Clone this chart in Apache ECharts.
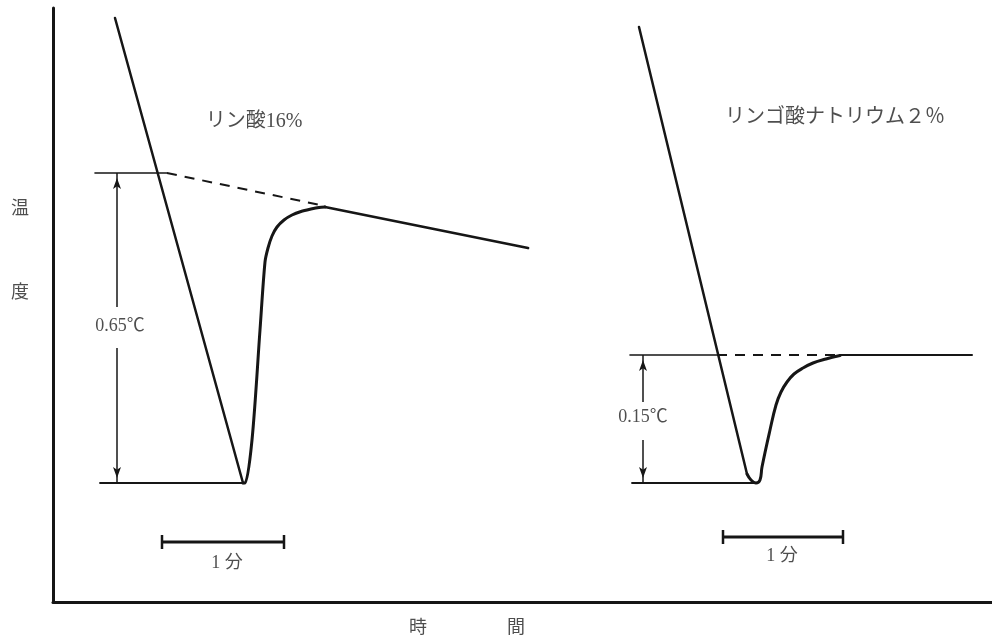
<!DOCTYPE html>
<html>
<head>
<meta charset="utf-8">
<script src="https://cdn.jsdelivr.net/npm/echarts@6/dist/echarts.min.js"></script>
<style>
html,body{margin:0;padding:0;background:#fff;}
#main{width:992px;height:643px;}
</style>
</head>
<body>
<div id="main"></div>
<script>
// Axis extents (arbitrary relative units: time → x, temperature → y)
const xRange = [0, 939];
const yRange = [0, 594];

// Left panel: リン酸16%
const leftCooling  = [[62,584],[190,119]];
const leftRecovery = [[190,119],[192,119],[199,162],[207,272],[212,340],[215,354],[219,366],[224,375],[231,382],[239,387],[248,390.5],[258,393],[266,394.6],[272,395]];
const leftTrend    = [[272,395],[475,354]];
const leftDashed   = [[114,429],[272,396]];
const leftTopRef   = [[42,429],[114,429]];
const leftBase     = [[47,119],[192,119]];
const leftArrowUp  = [[64,295],[64,429]];
const leftArrowDn  = [[64,254],[64,119]];
const leftMinute   = [[109,60],[231,60]];

// Right panel: リンゴ酸ナトリウム2%
const rightCooling  = [[586,575],[694,128]];
const rightRecovery = [[694,128],[698,122],[703,119],[707,122],[709,135],[717,172],[723,197],[728,210],[734,220],[741,228],[750,234],[760,239],[773,243],[787,246.5]];
const rightPlateau  = [[787,247],[919,247]];
const rightDashed   = [[664,247],[787,247]];
const rightTopRef   = [[577,247],[664,247]];
const rightBase     = [[579,119],[703,119]];
const rightArrowUp  = [[590,200],[590,247]];
const rightArrowDn  = [[590,162],[590,119]];
const rightMinute   = [[670,65],[790,65]];

// Text annotations
const labelTexts = ['リン酸16%','リンゴ酸ナトリウム２％','0.65℃','0.15℃','1 分','1 分','温','度','時','間'];
const labelPos   = [[201,480],[782,484],[67,276],[590,185],[174,39],[729,46],[-33,393],[-33,309],[365,-26],[463,-26]];
const labelSizes = [20,20,18,18,18,18,18,18,18,18];

const INK = '#161616';
const FONT = '"Liberation Serif", "Noto Sans CJK JP", serif';

function plain(data, width, extra) {
  return Object.assign({
    type: 'line', data: data, symbol: 'none', silent: true, z: 3,
    lineStyle: { color: INK, width: width, cap: 'round', join: 'round' }
  }, extra || {});
}
function arrow(data) {
  // data[0] = free end, data[1] = end with arrowhead
  const up = data[1][1] > data[0][1];
  return {
    type: 'line', silent: true, z: 3,
    data: [
      { value: data[0], symbol: 'none' },
      { value: data[1], symbol: 'arrow', symbolSize: [6, 11], symbolRotate: up ? 0 : 180, symbolOffset: [0, up ? 5 : -5] }
    ],
    showAllSymbol: true,
    itemStyle: { color: INK },
    lineStyle: { color: INK, width: 1.5 }
  };
}
function scaleBar(data) {
  return {
    type: 'line', silent: true, z: 3, data: data, showAllSymbol: true,
    symbol: 'rect', symbolSize: [2.5, 14],
    itemStyle: { color: INK },
    lineStyle: { color: INK, width: 3 }
  };
}

const textData = labelTexts.map((t, i) => ({
  value: labelPos[i],
  label: { show: true, formatter: t, position: 'inside', fontSize: labelSizes[i], color: '#222', fontFamily: FONT }
}));

const series = [
  plain(leftCooling, 2.5),
  plain(leftRecovery, 3, { smooth: 0.3 }),
  plain(leftTrend, 2.8),
  plain(leftDashed, 2, { lineStyle: { color: INK, width: 2, type: [10, 8] } }),
  plain(leftTopRef, 1.6),
  plain(leftBase, 1.8),
  arrow(leftArrowUp),
  arrow(leftArrowDn),
  scaleBar(leftMinute),
  plain(rightCooling, 2.5),
  plain(rightRecovery, 3, { smooth: 0.4 }),
  plain(rightPlateau, 2),
  plain(rightDashed, 2, { lineStyle: { color: INK, width: 2, type: [10, 8] } }),
  plain(rightTopRef, 1.6),
  plain(rightBase, 1.8),
  arrow(rightArrowUp),
  arrow(rightArrowDn),
  scaleBar(rightMinute),
  {
    type: 'scatter', data: textData, symbolSize: 1, clip: false, silent: true, z: 5,
    itemStyle: { color: 'rgba(0,0,0,0)' }
  }
];

const chart = echarts.init(document.getElementById('main'), null, { renderer: 'canvas' });
chart.setOption({
  animation: false,
  backgroundColor: '#ffffff',
  grid: { left: 53, top: 8, right: 0, bottom: 41, containLabel: false },
  xAxis: {
    type: 'value', min: xRange[0], max: xRange[1],
    axisLine: { show: true, onZero: false, lineStyle: { color: INK, width: 3 } },
    axisTick: { show: false }, axisLabel: { show: false }, splitLine: { show: false }
  },
  yAxis: {
    type: 'value', min: yRange[0], max: yRange[1],
    axisLine: { show: true, onZero: false, lineStyle: { color: INK, width: 3 } },
    axisTick: { show: false }, axisLabel: { show: false }, splitLine: { show: false }
  },
  series: series
});
</script>
</body>
</html>
